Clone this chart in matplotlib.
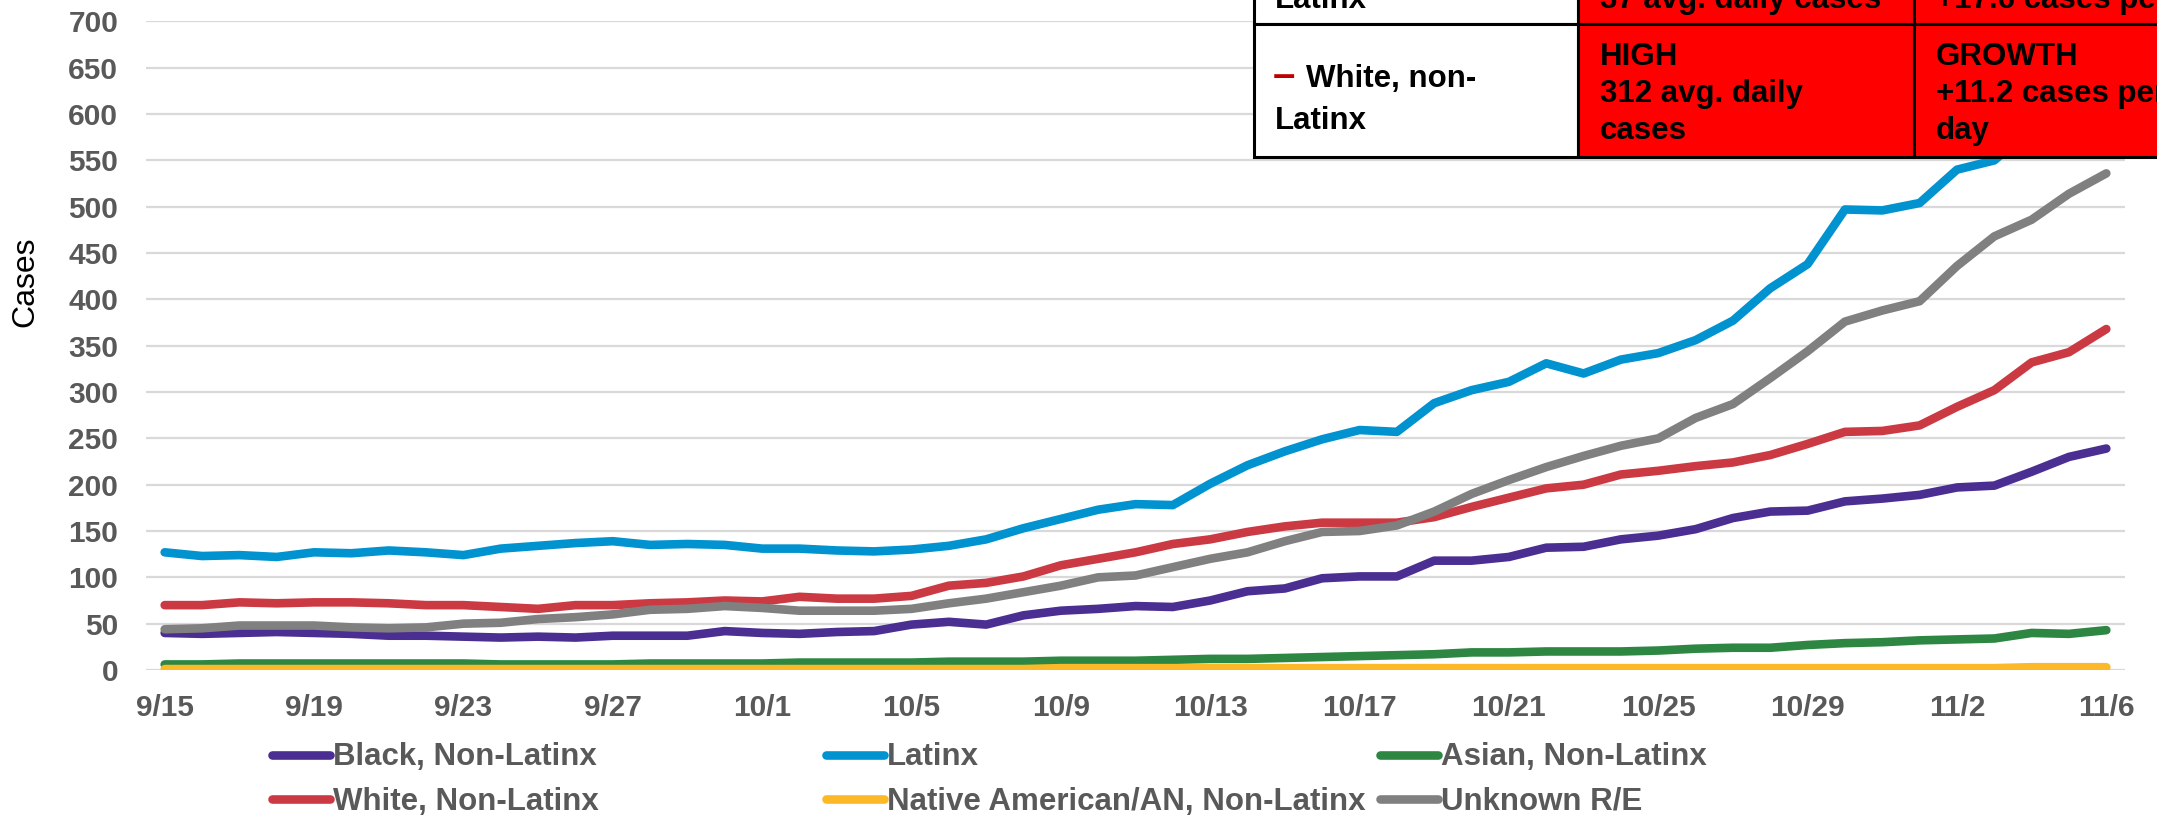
import pandas as pd
import matplotlib
matplotlib.use("Agg")
import matplotlib.pyplot as plt
from matplotlib.patches import Rectangle

plt.rcParams["font.family"] = ["Liberation Sans", "DejaVu Sans"]

# daily 7-day average cases by race/ethnicity, 9/15 - 11/6
dates = pd.date_range("2020-09-15", "2020-11-06", freq="D")
day_labels = [f"{d.month}/{d.day}" for d in dates]

black = [40, 39, 40, 41, 40, 39, 37, 37, 36, 35, 36, 35, 37,
         37, 37, 42, 40, 39, 41, 42, 49, 52, 49, 59, 64, 66, 69,
         68, 75, 85, 88, 99, 101, 101, 118, 118, 122, 132, 133, 141, 145,
         152, 164, 171, 172, 182, 185, 189, 197, 199, 214, 230, 239]
latinx = [127, 123, 124, 122, 127, 126, 129, 127, 124, 131, 134, 137, 139,
          135, 136, 135, 131, 131, 129, 128, 130, 134, 141, 153, 163, 173, 179,
          178, 201, 221, 236, 249, 259, 257, 288, 302, 311, 331, 320, 335, 342,
          356, 377, 412, 438, 497, 496, 504, 540, 550, 585, 605, 625]
asian = [6, 6, 7, 7, 7, 7, 7, 7, 7, 6, 6, 6, 6,
         7, 7, 7, 7, 8, 8, 8, 8, 9, 9, 9, 10, 10, 10,
         11, 12, 12, 13, 14, 15, 16, 17, 19, 19, 20, 20, 20, 21,
         23, 24, 24, 27, 29, 30, 32, 33, 34, 40, 39, 43]
white = [70, 70, 73, 72, 73, 73, 72, 70, 70, 68, 66, 70, 70,
         72, 73, 75, 74, 79, 77, 77, 80, 91, 94, 101, 113, 120, 127,
         136, 141, 149, 155, 159, 159, 159, 165, 176, 186, 196, 200, 211, 215,
         220, 224, 232, 244, 257, 258, 264, 284, 302, 332, 343, 368]
native = [1, 1, 1, 1, 1, 1, 1, 1, 1, 1, 1, 1, 1,
          1, 1, 1, 1, 1, 1, 1, 1, 1, 1, 1, 2, 2, 2,
          2, 2, 2, 2, 2, 2, 2, 2, 2, 2, 2, 2, 2, 2,
          2, 2, 2, 2, 2, 2, 2, 2, 2, 3, 3, 3]
unknown = [44, 45, 48, 48, 48, 46, 45, 46, 50, 51, 55, 57, 60,
           65, 66, 69, 67, 64, 64, 64, 66, 72, 77, 84, 91, 100, 102,
           111, 120, 127, 139, 149, 150, 156, 171, 190, 205, 219, 231, 242, 250,
           272, 287, 315, 344, 376, 388, 398, 436, 468, 486, 514, 536]

series = [
    ("Black, Non-Latinx", black, "#4B2E91"),
    ("Latinx", latinx, "#0093D0"),
    ("Asian, Non-Latinx", asian, "#2D8742"),
    ("White, Non-Latinx", white, "#CB3A43"),
    ("Native American/AN, Non-Latinx", native, "#FDB827"),
    ("Unknown R/E", unknown, "#808080"),
]

W, H = 2157, 822
fig = plt.figure(figsize=(W / 100, H / 100), dpi=100)
ax = fig.add_axes([146 / W, 1 - 670 / H, (2125 - 146) / W, (670 - 21.4) / H])

x = list(range(len(dates)))
lines = {}
for name, vals, color in series:
    (ln,) = ax.plot(x, vals, color=color, lw=6.2, solid_capstyle="round",
                    solid_joinstyle="round", label=name)
    lines[name] = ln

ax.set_xlim(-0.5, len(dates) - 0.5)
ax.set_ylim(0, 700)
ax.set_yticks(range(0, 701, 50))
ax.set_xticks(x[::4])
ax.set_xticklabels(day_labels[::4])
ax.grid(axis="y", color="#D9D9D9", lw=1.6)
ax.set_axisbelow(True)
for s in ax.spines.values():
    s.set_visible(False)
ax.tick_params(length=0, labelsize=21.5, labelcolor="#595959")
ax.tick_params(axis="y", pad=20)
ax.tick_params(axis="x", pad=17)
for lab in ax.get_xticklabels() + ax.get_yticklabels():
    lab.set_fontweight("bold")

fig.text(25 / W, 1 - 282 / H, "Cases", rotation=90, ha="center", va="center",
         fontsize=23, color="black")

# legend laid out in three equal-width columns, filled row by row
legend_cols = [
    (272, ["Black, Non-Latinx", "White, Non-Latinx"]),
    (826, ["Latinx", "Native American/AN, Non-Latinx"]),
    (1380, ["Asian, Non-Latinx", "Unknown R/E"]),
]
for x0, names in legend_cols:
    fig.legend([lines[n] for n in names], names, loc="center left",
               bbox_to_anchor=(x0 / W, 1 - 779.5 / H), frameon=False,
               handlelength=1.85, handletextpad=0.1, labelspacing=0.45,
               borderpad=0, borderaxespad=0, labelcolor="#595959",
               prop={"weight": "bold", "size": 22.5})

# status table in the top-right corner
tab = fig.add_axes([0, 0, 1, 1], zorder=5)
tab.set_xlim(0, W)
tab.set_ylim(H, 0)
tab.axis("off")

col_edges = [1254, 1578, 1914, 2300]
row_edges = [-90, 24, 157]
fills = ["white", "#FF0000", "#FF0000"]
for r in range(2):
    for c in range(3):
        tab.add_patch(Rectangle((col_edges[c], row_edges[r]),
                                col_edges[c + 1] - col_edges[c],
                                row_edges[r + 1] - row_edges[r],
                                facecolor=fills[c], edgecolor="black", lw=2.2,
                                clip_on=False))

tfont = dict(fontsize=22.5, fontweight="bold", color="black", va="baseline",
             ha="left")
tab.text(1275, 8, "Latinx", **tfont)
tab.text(1600, 8, "37 avg. daily cases", **tfont)
tab.text(1936, 8, "+17.6 cases per day", **tfont)

tab.text(1273, 87, "\u2013", fontsize=29, fontweight="bold", color="#C00000",
         va="baseline", ha="left")
tab.text(1306, 87, "White, non-", **tfont)
tab.text(1275, 129, "Latinx", **tfont)
tab.text(1600, 65, "HIGH", **tfont)
tab.text(1600, 102, "312 avg. daily", **tfont)
tab.text(1600, 139, "cases", **tfont)
tab.text(1936, 65, "GROWTH", **tfont)
tab.text(1936, 102, "+11.2 cases per", **tfont)
tab.text(1936, 139, "day", **tfont)

fig.savefig("out.png", dpi=100)
